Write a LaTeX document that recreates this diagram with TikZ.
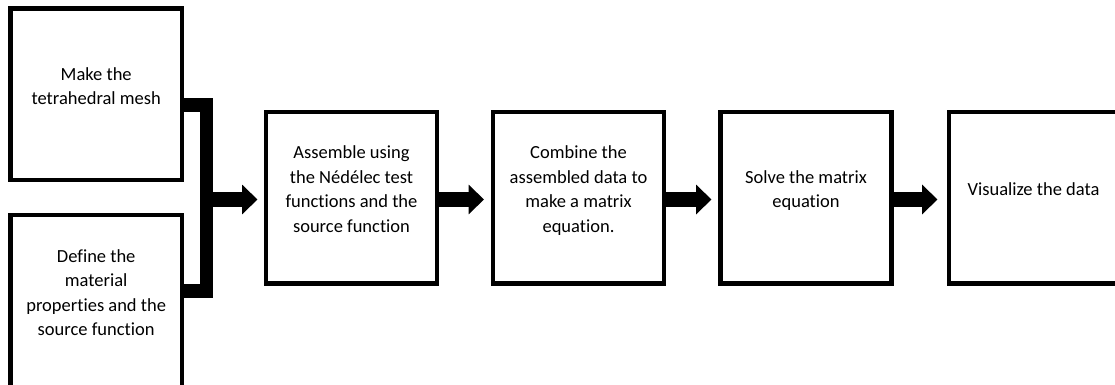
\documentclass[tikz,border=0pt]{standalone}
\usepackage{fontspec}
\setmainfont{Carlito}[Ligatures=NoCommon]
\usetikzlibrary{arrows.meta}
\begin{document}
\begin{tikzpicture}[x=1pt,y=-1pt,
  box/.style={draw=black, line width=4.5pt, minimum width=171pt, minimum height=171pt, inner sep=0pt, outer sep=0pt},
  txt/.style={font=\fontsize{18.5}{24.5}\selectfont, align=center, inner sep=0pt, text=black},
  flow/.style={line width=15pt, -{Triangle[length=15.5pt,width=29pt]}},
  bracket/.style={line width=13.5pt, line join=miter}]
\useasboundingbox (0,0) rectangle (1115,385);
% boxes
\node[box, minimum width=171.7pt, minimum height=171.7pt] (b1) at (96.2,94.2) {};
\node[box, minimum width=171.7pt, minimum height=171.7pt] (b2) at (96.2,301) {};
\node[box] (b3) at (351.5,197.75) {};
\node[box] (b4) at (578.5,197.75) {};
\node[box] (b5) at (806,197.75) {};
\node[box, minimum width=190pt] (b6) at (1044,197.75) {};
% texts
\node[txt] (t1) at (96.2,87.6) {\strut Make the\\tetrahedral mesh\strut};
\node[txt] (t2) at (96.2,294.1) {\strut Define the\\material\\properties and the\\source function\strut};
\node[txt] (t3) at (351.5,190.35) {\strut Assemble using\\the Nédélec test\\functions and the\\source function\strut};
\node[txt] (t4) at (578.5,190.35) {\strut Combine the\\assembled data to\\make a matrix\\equation.\strut};
\node[txt] (t5) at (806,190.6) {\strut Solve the matrix\\equation\strut};
\node[txt] (t6) at (1033.5,190.1) {\strut Visualize the data\strut};
% bracket joining the first two boxes
\coordinate (j) at (206.5,199.5);
\draw[bracket] ([yshift=-10.8pt]b1.east) -| (j) |- ([yshift=10pt]b2.east);
% arrow ends
\coordinate (e1) at ([xshift=-8.5pt,yshift=-1.75pt]b3.west);
\coordinate (s2) at ([yshift=-1.75pt]b3.east);
\coordinate (e2) at ([xshift=-9pt,yshift=-1.75pt]b4.west);
\coordinate (s3) at ([yshift=-1.75pt]b4.east);
\coordinate (e3) at ([xshift=-9pt,yshift=-1.75pt]b5.west);
\coordinate (s4) at ([yshift=-1.75pt]b5.east);
\coordinate (e4) at ([xshift=-11.5pt,yshift=-1.75pt]b6.west);
\draw[flow] (j) -- (e1);
\draw[flow] (s2) -- (e2);
\draw[flow] (s3) -- (e3);
\draw[flow] (s4) -- (e4);
\end{tikzpicture}
\end{document}
